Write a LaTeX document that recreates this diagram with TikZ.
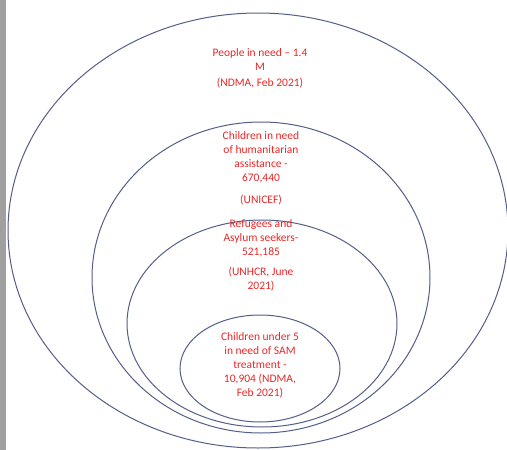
\documentclass[tikz,border=0pt]{standalone}
\usepackage{fontspec}
\setmainfont{Carlito}
\definecolor{ring}{RGB}{84,94,136}
\definecolor{txt}{RGB}{232,40,40}
\definecolor{bar}{RGB}{160,160,160}
\tikzset{
  ringline/.style={draw=ring, line width=1pt},
  lbl/.style={text=txt, align=center, inner sep=0pt, font=\fontsize{11.5}{14}\selectfont}
}
\begin{document}
\begin{tikzpicture}[x=1pt,y=-1pt]
\useasboundingbox (0,0) rectangle (507,450);
\fill[white] (0,0) rectangle (507,450);
\fill[bar] (0,0) rectangle (6,450);
\draw[ringline] (258,230.5) ellipse [x radius=250pt, y radius=217.5pt];
\draw[ringline] (261,277.5) ellipse [x radius=169pt, y radius=155.5pt];
\draw[ringline] (262,323.5) ellipse [x radius=135pt, y radius=103.5pt];
\draw[ringline] (260,368.5) ellipse [x radius=80pt, y radius=53.5pt];
\node[lbl] (t1) at (260,68) {People in need – 1.4\\M\\[2pt](NDMA, Feb 2021)};
\node[lbl] (t2) at (261,168) {Children in need\\of humanitarian\\assistance -\\670,440\\[8pt](UNICEF)};
\node[lbl] (t3) at (261,255) {Refugees and\\Asylum seekers-\\521,185\\[6pt](UNHCR, June\\2021)};
\node[lbl] (t4) at (260,365) {Children under 5\\in need of SAM\\treatment -\\10,904 (NDMA,\\Feb 2021)};
\end{tikzpicture}
\end{document}
